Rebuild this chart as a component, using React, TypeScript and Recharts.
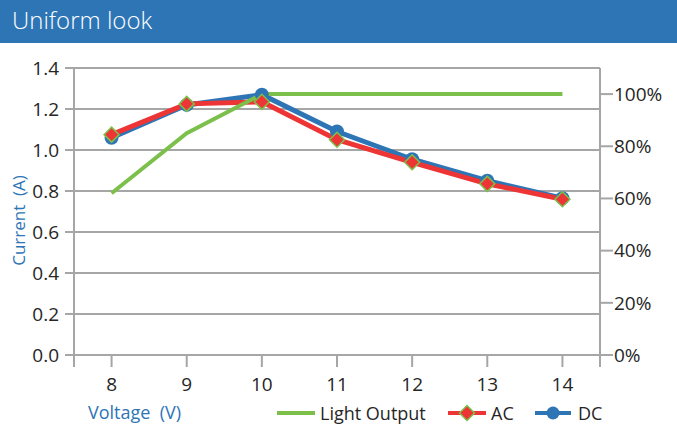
import React from "react";
import { CartesianGrid, Line, LineChart, XAxis, YAxis } from "recharts";

const categories = ["8", "9", "10", "11", "12", "13", "14"];
const acValues = [1.075, 1.225, 1.235, 1.05, 0.94, 0.835, 0.76];
const dcValues = [1.06, 1.22, 1.27, 1.09, 0.955, 0.85, 0.765];
const lightValues = [0.62, 0.85, 1.0, 1.0, 1.0, 1.0, 1.0];
const leftTicks = [0, 0.2, 0.4, 0.6, 0.8, 1.0, 1.2, 1.4];
const rightTicks = [0, 0.2, 0.4, 0.6, 0.8, 1.0];
const seriesNames = ["Light Output", "AC", "DC"];

const data = categories.map((voltage, i) => ({
  voltage,
  ac: acValues[i],
  dc: dcValues[i],
  light: lightValues[i]
}));

const FONT = "'Open Sans', 'Noto Sans', sans-serif";
const BLUE = "#2E75B6";
const RED = "#EE3535";
const GREEN = "#7CC04B";
const GRID = "#A6A6A6";
const TEXT = "#262626";

const CHART_W = 677;
const CHART_H = 386;
const LEFT_W = 74;
const RIGHT_W = 77;
const BAND = (CHART_W - LEFT_W - RIGHT_W) / categories.length;

function Diamond(props: any) {
  const { cx, cy } = props;
  if (cx == null || cy == null) return null;
  const r = 7.5;
  return (
    <polygon
      points={`${cx},${cy - r} ${cx + r},${cy} ${cx},${cy + r} ${cx - r},${cy}`}
      fill={RED}
      stroke={GREEN}
      strokeWidth={1.5}
    />
  );
}

function Dot(props: any) {
  const { cx, cy } = props;
  if (cx == null || cy == null) return null;
  return <circle cx={cx} cy={cy} r={7} fill={BLUE} />;
}

function XTick(props: any) {
  const { x, y, payload, index } = props;
  const axisY = y - 20;
  return (
    <g>
      {index === 0 && (
        <line x1={x - BAND / 2} x2={x - BAND / 2} y1={axisY} y2={axisY + 12} stroke={GRID} strokeWidth={2} />
      )}
      {index === categories.length - 1 && (
        <line x1={x + BAND / 2} x2={x + BAND / 2} y1={axisY} y2={axisY + 12} stroke={GRID} strokeWidth={2} />
      )}
      <text x={x} y={y} dy={16} textAnchor="middle" fill={TEXT} fontSize={19} fontFamily={FONT}>
        {payload.value}
      </text>
    </g>
  );
}

function LegendRow() {
  const icons = [
    <line key="l" x1={0} x2={38} y1={10} y2={10} stroke={GREEN} strokeWidth={4} />,
    <g key="a">
      <line x1={0} x2={38} y1={10} y2={10} stroke={RED} strokeWidth={4} />
      <Diamond cx={19} cy={10} />
    </g>,
    <g key="d">
      <line x1={0} x2={36} y1={10} y2={10} stroke={BLUE} strokeWidth={4} />
      <circle cx={18} cy={10} r={6.5} fill={BLUE} />
    </g>
  ];
  const lefts = [277, 448, 535];
  return (
    <>
      {seriesNames.map((name, i) => (
        <div
          key={name}
          style={{
            position: "absolute",
            left: lefts[i],
            top: 401,
            display: "flex",
            alignItems: "center",
            fontFamily: FONT,
            fontSize: 18,
            color: TEXT
          }}
        >
          <svg width={40} height={20} style={{ marginRight: 3 }}>
            {icons[i]}
          </svg>
          {name}
        </div>
      ))}
    </>
  );
}

export default function App() {
  return (
    <div style={{ position: "absolute", left: 0, top: 0, width: 677, height: 429, background: "#fff" }}>
      <div
        style={{
          height: 43,
          background: BLUE,
          color: "#fff",
          fontFamily: FONT,
          fontSize: 24,
          fontWeight: 300,
          lineHeight: "40px",
          paddingLeft: 12,
          boxSizing: "border-box"
        }}
      >
        Uniform look
      </div>
      <LineChart
        width={CHART_W}
        height={CHART_H}
        data={data}
        margin={{ top: 25, right: 0, bottom: 0, left: 0 }}
      >
        <CartesianGrid vertical={false} stroke={GRID} strokeWidth={2} yAxisId="left" />
        <XAxis
          dataKey="voltage"
          height={74}
          padding={{ left: BAND / 2, right: BAND / 2 }}
          stroke={GRID}
          strokeWidth={2}
          tickSize={12}
          tickMargin={8}
          tick={<XTick />}
          label={{
            content: (p: any) => (
              <text
                x={p.viewBox.x + 14}
                y={p.viewBox.y + 64}
                fill={BLUE}
                fontSize={18}
                fontFamily={FONT}
              >
                {"Voltage\u00A0\u00A0(V)"}
              </text>
            )
          }}
        />
        <YAxis
          yAxisId="left"
          width={LEFT_W}
          domain={[0, 1.4]}
          ticks={leftTicks}
          tickFormatter={(v: number) => v.toFixed(1)}
          stroke={GRID}
          strokeWidth={2}
          tickSize={9}
          tickMargin={6}
          tick={{ fill: TEXT, fontSize: 19, fontFamily: FONT }}
          label={{
            content: (p: any) => {
              const cy = p.viewBox.y + p.viewBox.height / 2 + 9;
              return (
                <text
                  x={18}
                  y={cy}
                  fill={BLUE}
                  fontSize={17}
                  fontFamily={FONT}
                  textAnchor="middle"
                  dominantBaseline="central"
                  transform={`rotate(-90 18 ${cy})`}
                >
                  {"Current\u00A0\u00A0(A)"}
                </text>
              );
            }
          }}
        />
        <YAxis
          yAxisId="right"
          orientation="right"
          width={RIGHT_W}
          domain={[0, 1.1]}
          ticks={rightTicks}
          tickFormatter={(v: number) => `${Math.round(v * 100)}%`}
          stroke={GRID}
          strokeWidth={2}
          tickSize={13}
          tickMargin={1}
          tick={{ fill: TEXT, fontSize: 19, fontFamily: FONT }}
        />
        <Line
          yAxisId="left"
          dataKey="dc"
          name="DC"
          type="linear"
          stroke={BLUE}
          strokeWidth={5}
          dot={<Dot />}
          activeDot={false}
          isAnimationActive={false}
        />
        <Line
          yAxisId="left"
          dataKey="ac"
          name="AC"
          type="linear"
          stroke={RED}
          strokeWidth={5}
          dot={<Diamond />}
          activeDot={false}
          isAnimationActive={false}
        />
        <Line
          yAxisId="right"
          dataKey="light"
          name="Light Output"
          type="linear"
          stroke={GREEN}
          strokeWidth={4}
          dot={false}
          activeDot={false}
          isAnimationActive={false}
        />
      </LineChart>
      <LegendRow />
    </div>
  );
}
